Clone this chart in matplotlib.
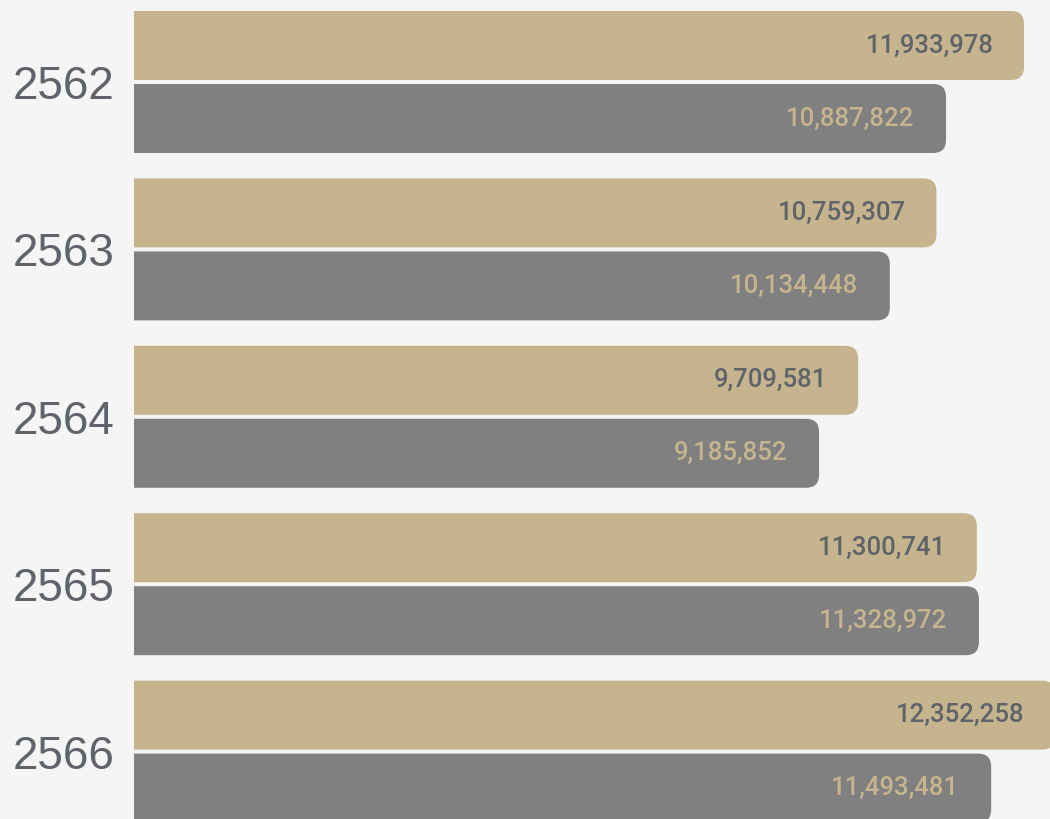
import matplotlib
matplotlib.use("Agg")
import matplotlib.pyplot as plt
from matplotlib.patches import FancyBboxPatch

# data
years = ["2562", "2563", "2564", "2565", "2566"]
series_a = [11933978, 10759307, 9709581, 11300741, 12352258]
series_b = [10887822, 10134448, 9185852, 11328972, 11493481]

tan = "#c5b48d"
grey = "#808080"
bg = "#f5f5f5"
txt = "#5f636a"

W, H = 1050, 819
fig = plt.figure(figsize=(W / 100, H / 100), dpi=100, facecolor=bg)
ax = fig.add_axes([134 / W, 0, 1 - 134 / W, 1])
ax.set_facecolor(bg)

pitch = 167.4                      # px between groups
xmax = 12282000
ax.set_xlim(0, xmax)
ax.set_ylim((H - 82) / pitch, -82 / pitch)

px_x = xmax / (W - 134)            # data units per pixel
px_y = 1 / pitch
bar_h = 69 * px_y
off = 36.5 * px_y
r = 13 * px_x

def rbar(y, val, color):
    x0 = -3 * r
    p = FancyBboxPatch((x0, y - bar_h / 2), val - x0, bar_h,
                       boxstyle=f"round,pad=0,rounding_size={r}",
                       mutation_aspect=px_y / px_x,
                       fc=color, ec="none", lw=0)
    ax.add_patch(p)

for i in range(len(years)):
    rbar(i - off, series_a[i], tan)
    rbar(i + off, series_b[i], grey)
    ax.annotate(f"{series_a[i]:,}", xy=(series_a[i], i - off), xytext=(-22, 0),
                textcoords="offset points", ha="right", va="center",
                fontsize=18.5, color=txt, family="Roboto", fontweight="medium",
                annotation_clip=False)
    ax.annotate(f"{series_b[i]:,}", xy=(series_b[i], i + off), xytext=(-23, 0),
                textcoords="offset points", ha="right", va="center",
                fontsize=18.5, color=tan, family="Roboto", fontweight="medium",
                annotation_clip=False)

ax.set_yticks(range(len(years)))
ax.set_yticklabels(years, fontsize=33, color=txt, family="Liberation Sans")
ax.tick_params(axis="y", length=0, pad=14)
ax.set_xticks([])
for s in ax.spines.values():
    s.set_visible(False)

fig.savefig("out.png", dpi=100, facecolor=bg)
